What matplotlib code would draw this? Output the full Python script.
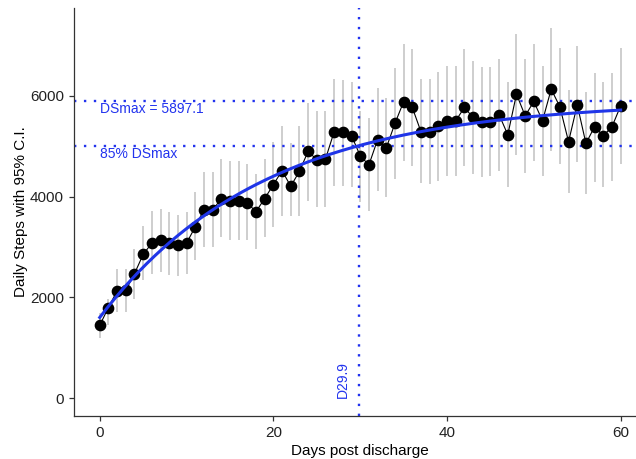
import numpy as np
import matplotlib
matplotlib.use("Agg")
import matplotlib.pyplot as plt

plt.rcParams["font.family"] = ["Liberation Sans", "DejaVu Sans"]

# daily steps (mean) with 95% C.I. per day after discharge
days = list(range(61))
steps = [1445, 1796, 2130, 2140, 2469, 2851, 3075, 3128, 3075, 3029, 3075,
         3400, 3740, 3730, 3960, 3920, 3920, 3867, 3703, 3960, 4237,
         4514, 4204, 4501, 4897, 4732, 4745, 5287, 5287, 5207, 4811,
         4627, 5128, 4963, 5451, 5881, 5768, 5287, 5273, 5392, 5491,
         5504, 5768, 5570, 5471, 5484, 5623, 5227, 6033, 5603, 5887,
         5504, 6132, 5782, 5089, 5821, 5055, 5386, 5207, 5386, 5801]
ci_low = [1188, 1459, 1709, 1709, 1974, 2336, 2468, 2501, 2435, 2422, 2468,
          2732, 2996, 2996, 3194, 3141, 3141, 3128, 2964, 3200, 3392,
          3623, 3623, 3623, 3920, 3788, 3788, 4217, 4217, 4184, 3900,
          3722, 4118, 3986, 4349, 4699, 4613, 4270, 4250, 4316, 4415,
          4415, 4613, 4448, 4382, 4415, 4501, 4184, 4831, 4468, 4712,
          4415, 4910, 4646, 4065, 4679, 4052, 4283, 4184, 4316, 4646]
ci_high = [1683, 1974, 2568, 2568, 2964, 3425, 3709, 3756, 3689, 3643, 3689,
           4085, 4481, 4481, 4745, 4712, 4699, 4645, 4448, 4745, 5075,
           5405, 5055, 5405, 5867, 5702, 5702, 6330, 6310, 6270, 5700,
           5557, 6164, 5966, 6547, 7035, 6923, 6330, 6330, 6481, 6593,
           6593, 6923, 6682, 6567, 6567, 6725, 6283, 7234, 6725, 7035,
           6593, 7338, 6943, 6111, 6989, 6085, 6461, 6270, 6461, 6943]

# fitted exponential recovery model
ds_max = 5897.1
ds_start = 1600
k_rate = 0.05286
day85 = 29.9

t = np.linspace(0, 60, 200)
fit = ds_max - (ds_max - ds_start) * np.exp(-k_rate * t)

fig = plt.figure(figsize=(6.36, 4.59), dpi=100)
ax = fig.add_axes([73.7 / 636, 43 / 459, 573 / 636, 408 / 459])

ax.vlines(days, ci_low, ci_high, color="#c6c6c6", lw=1.2, zorder=1)

dot = (0, (1, 3.2))
lab_blue = "#2233ee"
ax.axhline(ds_max, color=lab_blue, lw=1.7, ls=dot, zorder=2)
ax.axhline(0.85 * ds_max, color=lab_blue, lw=1.7, ls=dot, zorder=2)
ax.axvline(day85, color=lab_blue, lw=1.7, ls=dot, zorder=2)

ax.plot(days, steps, color="black", lw=0.8, zorder=3)
ax.plot(days, steps, "o", color="black", ms=7.4, zorder=4)
ax.plot(t, fit, color="#1f35e8", lw=2.2, zorder=5)

ax.text(0, ds_max - 20, "DSmax = %.1f" % ds_max, color=lab_blue, fontsize=10,
        ha="left", va="top")
ax.text(0, 0.85 * ds_max - 20, "85% DSmax", color=lab_blue, fontsize=10,
        ha="left", va="top")
ax.text(28.0, 0, "D%.1f" % day85, color=lab_blue, fontsize=10, rotation=90,
        ha="center", va="bottom")

ax.set_xlim(-3, 63)
ax.set_ylim(-356, 7743)
ax.set_xticks([0, 20, 40, 60])
ax.set_yticks([0, 2000, 4000, 6000])
ax.set_xlabel("Days post discharge", fontsize=11, labelpad=3)
ax.set_ylabel("Daily Steps with 95% C.I.", fontsize=11, labelpad=1.5)

for s in ["top", "right"]:
    ax.spines[s].set_visible(False)
for s in ["left", "bottom"]:
    ax.spines[s].set_color("#333333")
    ax.spines[s].set_linewidth(0.9)
ax.tick_params(colors="#333333", labelsize=11, length=3.5, width=0.9,
               labelcolor="#222222")

fig.savefig("out.png", dpi=100)
